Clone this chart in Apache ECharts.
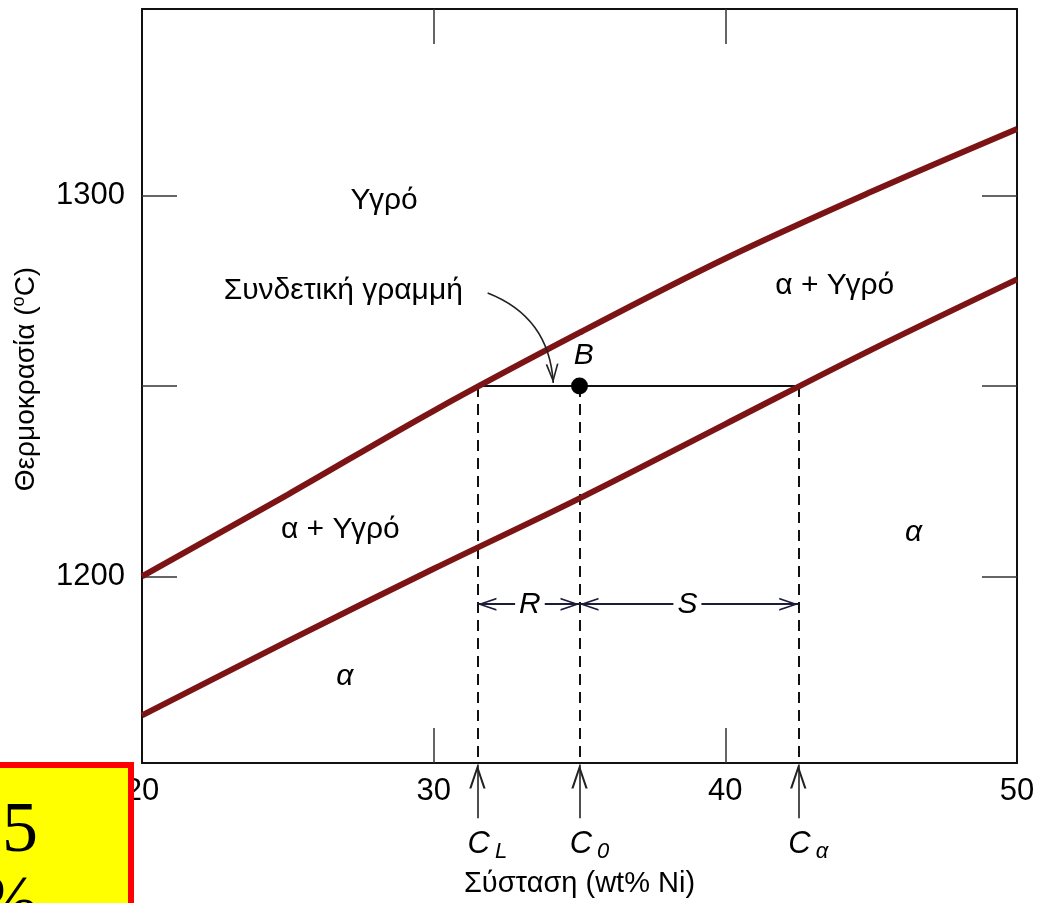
<!DOCTYPE html>
<html><head><meta charset="utf-8">
<script src="https://cdn.jsdelivr.net/npm/echarts@6/dist/echarts.min.js"></script>
<style>html,body{margin:0;padding:0;background:#fff}#c{width:1050px;height:903px}</style>
</head><body><div id="c"></div>
<script>
// ---- data ----
const compositions = [20, 25, 30, 35, 40, 45, 50];          // wt% Ni
const liquidus = [1200, 1221.5, 1243.5, 1264, 1283.5, 1301, 1317.5]; // °C
const solidus  = [1163.5, 1183, 1202, 1220.5, 1240, 1259.5, 1278];   // °C
const tieT = 1250;           // tie-line temperature
const CL = 31.5, C0 = 35, Ca = 42.5;
const compMarks = [CL, C0, Ca];
const compNames = ['L', '0', 'α'];
const xTickLabels = [20, 30, 40, 50];
const xTickMarks = [30, 40];
const yTickLabels = [1200, 1300];
const yTickMarks = [1200, 1250, 1300];
const X_MIN = 20, X_MAX = 50, Y_MIN = 1151, Y_MAX = 1349;
const RS_T = 1192.7;

// annotation anchor points (data coordinates)
const notes = [
  {t: 'Υγρό', x: 28.3, y: 1298.7, italic: false},
  {t: 'Συνδετική γραμμή', x: 26.9, y: 1275.0, italic: false},
  {t: 'B', x: 35.15, y: 1258.0, italic: true},
  {t: 'α + Υγρό', x: 43.75, y: 1276.4, italic: false},
  {t: 'α + Υγρό', x: 26.8, y: 1212.3, italic: false},
  {t: 'α', x: 26.95, y: 1173.8, italic: true},
  {t: 'α', x: 46.45, y: 1211.5, italic: true}
];
const rsLabels = [{t: 'R', x: 33.3}, {t: 'S', x: 38.7}];
const tieArrow = [[31.85, 1274.4], [34.1, 1250.8]];

const FONT = '"Liberation Sans", Arial, Helvetica, sans-serif';
const CURVE = '#7c1416';
const INK = '#000';
const arrowHead = 'path://M0,0 L0.01,0 M48,48 L48,47.99 M24,24 L32.2,48 L30,48 L24,30 L18,48 L15.8,48 Z';

const chart = echarts.init(document.getElementById('c'));

const pair = (xs, ys) => xs.map((x, i) => [x, ys[i]]);

const option = {
  animation: false,
  backgroundColor: '#fff',
  grid: {left: 142, right: 33, top: 9, bottom: 138},
  xAxis: [
    {
      type: 'value', position: 'bottom', min: X_MIN, max: X_MAX, interval: 10,
      axisLine: {lineStyle: {color: '#111', width: 2}},
      axisTick: {inside: true, length: 35, customValues: xTickMarks, lineStyle: {color: '#333', width: 1.5}},
      axisLabel: {customValues: xTickLabels, margin: 13, fontSize: 31, color: INK, fontFamily: FONT,
        formatter: v => String(v)},
      splitLine: {show: false},
      name: 'Σύσταση (wt% Ni)', nameLocation: 'middle', nameGap: 106,
      nameTextStyle: {fontSize: 29, color: INK, fontFamily: FONT}
    },
    {
      type: 'value', position: 'top', min: X_MIN, max: X_MAX, interval: 10,
      axisLine: {lineStyle: {color: '#111', width: 2}},
      axisTick: {inside: true, length: 35, customValues: xTickMarks, lineStyle: {color: '#333', width: 1.5}},
      axisLabel: {show: false}, splitLine: {show: false}
    }
  ],
  yAxis: [
    {
      type: 'value', position: 'left', min: Y_MIN, max: Y_MAX,
      axisLine: {lineStyle: {color: '#111', width: 2}},
      axisTick: {inside: true, length: 35, customValues: yTickMarks, lineStyle: {color: '#333', width: 1.5}},
      axisLabel: {customValues: yTickLabels, margin: 17, fontSize: 31, color: INK, fontFamily: FONT,
        formatter: v => String(v)},
      splitLine: {show: false},
      name: 'Θερμοκρασία ({sup|o}C)', nameLocation: 'middle', nameGap: 100,
      nameTextStyle: {fontSize: 28, color: INK, fontFamily: FONT, lineHeight: 32, padding: [0, 0, 0, 14],
        rich: {sup: {fontSize: 18, color: INK, fontFamily: FONT, verticalAlign: 'top', lineHeight: 32, padding: [0, 0, 10, 0]}}}
    },
    {
      type: 'value', position: 'right', min: Y_MIN, max: Y_MAX,
      axisLine: {lineStyle: {color: '#111', width: 2}},
      axisTick: {inside: true, length: 35, customValues: yTickMarks, lineStyle: {color: '#333', width: 1.5}},
      axisLabel: {show: false}, splitLine: {show: false}
    }
  ],
  series: [
    {
      name: 'liquidus', type: 'line', data: pair(compositions, liquidus), smooth: 0.35,
      showSymbol: false, lineStyle: {color: CURVE, width: 6}, z: 5
    },
    {
      name: 'solidus', type: 'line', data: pair(compositions, solidus), smooth: 0.35,
      showSymbol: false, lineStyle: {color: CURVE, width: 6}, z: 5
    },
    {
      name: 'tie', type: 'line', data: [[CL, tieT], [Ca, tieT]], showSymbol: false,
      lineStyle: {color: '#111', width: 2}, z: 4
    },
    {
      name: 'drops', type: 'lines', coordinateSystem: 'cartesian2d', clip: false,
      data: compMarks.map(c => ({coords: [[c, tieT], [c, Y_MIN]]})),
      lineStyle: {color: '#111', width: 2, type: [11, 7], opacity: 1}, z: 3
    },
    {
      name: 'upArrows', type: 'lines', coordinateSystem: 'cartesian2d', clip: false,
      data: compMarks.map(c => ({coords: [[c, 1136.5], [c, Y_MIN - 0.4]]})),
      symbol: ['none', arrowHead], symbolSize: 48,
      lineStyle: {color: '#222', width: 1.6, opacity: 1}, z: 6
    },
    {
      name: 'RS', type: 'lines', coordinateSystem: 'cartesian2d', clip: false,
      data: [{coords: [[CL, RS_T], [C0, RS_T]]}, {coords: [[C0, RS_T], [Ca, RS_T]]}],
      symbol: [arrowHead, arrowHead], symbolSize: 38,
      lineStyle: {color: '#1b1b3a', width: 1.8, opacity: 1}, z: 6
    },
    {
      name: 'tieArrow', type: 'lines', coordinateSystem: 'cartesian2d', clip: false,
      data: [{coords: tieArrow}],
      symbol: ['none', arrowHead], symbolSize: 38,
      lineStyle: {color: '#222', width: 1.6, curveness: 0.32, opacity: 1}, z: 6
    },
    {
      name: 'B', type: 'scatter', data: [[C0, tieT]], symbolSize: 17,
      itemStyle: {color: '#000', opacity: 1}, z: 8
    },
    {
      name: 'notes', type: 'scatter', clip: false, symbolSize: 1, silent: true,
      itemStyle: {color: 'rgba(0,0,0,0)', opacity: 1}, z: 9,
      data: notes.map(n => ({
        value: [n.x, n.y],
        label: {show: true, position: 'inside', formatter: n.t, fontSize: 30, color: INK,
          fontFamily: FONT, fontStyle: n.italic ? 'italic' : 'normal'}
      }))
    },
    {
      name: 'rsLabels', type: 'scatter', clip: false, symbolSize: 1, silent: true,
      itemStyle: {color: 'rgba(0,0,0,0)', opacity: 1}, z: 9,
      data: rsLabels.map(n => ({
        value: [n.x, RS_T],
        label: {show: true, position: 'inside', formatter: n.t, fontSize: 30, color: INK,
          fontFamily: FONT, fontStyle: 'italic', backgroundColor: '#fff', padding: [0, 4]}
      }))
    },
    {
      name: 'compLabels', type: 'scatter', clip: false, symbolSize: 1, silent: true,
      itemStyle: {color: 'rgba(0,0,0,0)', opacity: 1}, z: 9,
      data: compMarks.map((c, i) => ({
        value: [c, 1129.5],
        label: {show: true, position: 'inside', offset: [10, 0], formatter: '{c|C}{s|' + compNames[i] + '}',
          rich: {
            c: {fontSize: 31, fontStyle: 'italic', fontFamily: FONT, color: INK, lineHeight: 36},
            s: {fontSize: 22, fontStyle: 'italic', fontFamily: FONT, color: INK, lineHeight: 36,
                padding: [14, 0, 0, 5]}
          }}
      }))
    }
  ],
  graphic: [
    {
      type: 'rect', z: 100, shape: {x: -10, y: 765, width: 141, height: 150},
      style: {fill: '#ffff00', stroke: '#ff0000', lineWidth: 6}
    },
    {
      type: 'text', z: 101, style: {x: 38, y: 795, text: '35\nwt%', align: 'right', verticalAlign: 'top',
        font: '72px "Liberation Serif", "Times New Roman", serif', lineHeight: 74, fill: '#000'}
    }
  ]
};
chart.setOption(option);
</script>
</body></html>
